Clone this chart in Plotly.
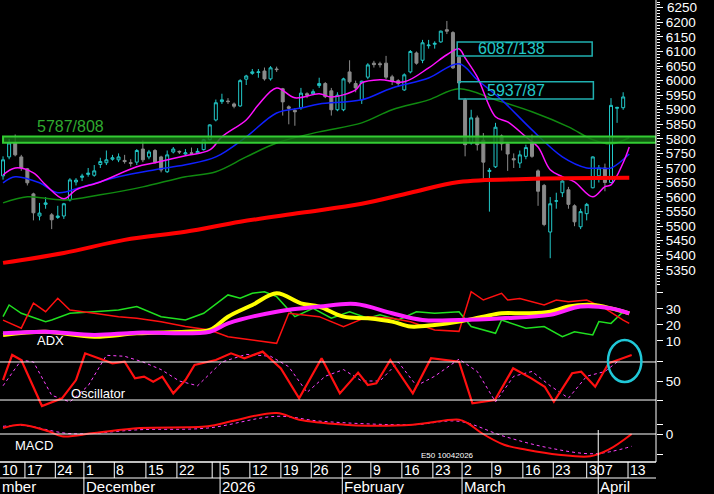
import plotly.graph_objects as go

# ---- price candles (open, high, low, close) ----
opens = [5673,5738,5786,5738,5697,5611,5535,5575,5539,5530,5535,5590,5652,5668,5678,5675,5712,5718,5730,5728,
         5726,5718,5720,5765,5738,5760,5738,5687,5755,5757,5748,5752,5752,5763,5797,5865,5928,5930,5920,5913,
         6005,6025,6028,6033,6006,6040,5972,5910,5898,5907,5955,5955,5983,5990,5965,5900,5900,6030,5990,5934,
         6012,6060,6058,6060,6013,6000,5968,6030,6095,6070,6120,6125,6133,6175,6165,6080,5934,5786,5872,5795,
         5688,5704,5810,5783,5732,5717,5740,5790,5690,5640,5480,5586,5615,5625,5570,5498,5543,5632,5673,5700,
         5650,5905,5907]
closes = [5728,5786,5745,5700,5649,5546,5545,5580,5522,5535,5577,5659,5658,5672,5682,5690,5722,5728,5735,5738,
          5722,5716,5760,5728,5755,5720,5693,5745,5765,5755,5752,5750,5757,5797,5848,5924,5934,5928,5912,6000,
          6016,6030,6030,6006,6044,6038,5927,5905,5893,5957,5950,5962,5990,5945,5900,5950,6006,5996,5975,5998,
          6054,6055,6055,6012,5997,5990,6020,6100,6060,6130,6122,6128,6170,6170,6044,5992,5780,5872,5780,5720,
          5692,5840,5783,5748,5728,5745,5770,5740,5620,5506,5577,5587,5655,5575,5515,5550,5575,5738,5700,5650,
          5915,5908,5944]
highs = [5740,5800,5815,5745,5700,5615,5580,5600,5545,5570,5580,5665,5665,5680,5700,5710,5735,5760,5745,5750,
         5745,5730,5765,5795,5762,5765,5742,5760,5772,5760,5765,5770,5768,5800,5850,5935,5955,5940,5925,6005,
         6020,6040,6040,6045,6050,6048,5975,5915,5905,5975,5960,5970,6010,5995,5975,5960,6010,6070,6000,6000,
         6060,6068,6065,6085,6020,6005,6025,6105,6100,6140,6140,6135,6172,6205,6170,6085,5940,5900,5880,5820,
         5700,5855,5815,5790,5750,5760,5780,5815,5695,5645,5600,5615,5665,5635,5575,5560,5580,5740,5710,5715,
         5940,5910,5960]
lows = [5660,5730,5740,5690,5640,5520,5520,5560,5490,5525,5525,5585,5640,5655,5670,5670,5700,5710,5725,5720,
        5715,5705,5710,5720,5730,5715,5685,5683,5750,5748,5745,5745,5750,5760,5795,5860,5920,5920,5905,5910,
        5985,6020,6010,6000,6000,6030,5880,5850,5845,5900,5940,5950,5975,5940,5880,5895,5895,5990,5960,5920,
        6005,6045,6045,6005,5985,5980,5965,6025,6055,6060,6110,6110,6130,6160,6040,5975,5740,5780,5760,5660,
        5550,5700,5760,5690,5700,5700,5730,5735,5570,5500,5390,5560,5600,5560,5500,5490,5520,5630,5650,5620,
        5650,5855,5900]
idx = list(range(len(opens)))

# ---- moving averages ----
ma10_x = [0,2,5,7,10,12,16,22,25,30,34,36,40,42,45,48,52,54,58,59,62,66,70,73,75,76,78,81,83,86,88,90,92,94,97,99,100,102,103]
ma10_y = [5676,5700,5683,5642,5594,5625,5652,5704,5718,5742,5762,5807,5865,5917,5975,5941,5955,5944,5968,5992,6003,5996,6044,6089,6109,6078,6013,5876,5858,5807,5772,5694,5670,5652,5601,5636,5642,5718,5772]
ma20_x = [0,2,6,9,13,19,25,30,35,40,45,49,52,59,64,70,75,78,82,87,92,96,98,100,103]
ma20_y = [5649,5670,5649,5615,5635,5670,5694,5711,5738,5807,5889,5906,5920,5934,5975,6009,6058,6003,5934,5831,5738,5700,5700,5700,5748]
ma50_x = [0,4,10,16,23,30,35,40,45,52,59,64,70,75,81,87,93,97,100,103]
ma50_y = [5580,5601,5590,5608,5635,5670,5687,5738,5786,5824,5855,5900,5934,5972,5934,5893,5841,5797,5783,5804]
ma200_x = [0,10,20,30,39,49,59,67,75,86,103]
ma200_y = [5374,5408,5453,5481,5515,5546,5577,5615,5652,5662,5666]

# ---- ADX panel ----
dim_x = [0,3,5,7,9,11,15,19,22,26,30,34,37,41,45,47,52,56,60,64,67,71,75,77,79,82,83,85,89,91,93,96,99,102,103]
dim_y = [23,18,33.6,28.3,36.7,29.4,27.3,25.2,24.2,22,19,16.9,12.7,10.6,8.5,27.3,25.2,19,25.2,24.2,22,16.9,16,40.8,35.6,39.8,35.6,36.5,32.5,35.6,34.6,35.6,30.4,23,21]
dip_x = [0,1,3,7,8,11,15,19,22,26,30,33,37,39,41,43,45,48,51,54,57,60,62,65,68,71,75,77,81,82,86,89,92,94,97,98,100,102,103]
dip_y = [25.2,32.5,27.3,22.1,23.1,27.3,28.3,29.4,31.5,25.2,23.1,27.3,38.8,36.7,39.8,40.8,37.7,25.2,30.4,24.2,28.3,24.2,26.3,23.1,28.3,27.3,28.3,19,14.8,23.1,17.9,19,12.7,15.8,13.8,22.1,21,28.3,28.3]
adx_x = [0,7,15,22,30,34,37,41,45,49,52,56,60,64,67,71,75,79,82,86,90,93,97,100,103]
adx_y = [13.75,15.8,12.7,14.8,15.8,16.9,25.2,32.5,39.8,33.5,31.5,25.2,24.2,22.1,19,20,22.1,25.2,27.3,27.3,28.3,31.5,32.5,30.4,27.3]
adxr_x = [0,7,15,22,34,37,45,52,58,64,69,75,82,90,95,100,103]
adxr_y = [14.8,15.8,13.75,15.2,15.8,21,28.3,31.5,33.1,27.3,23.1,23.1,24.2,26.3,31.5,30.4,27.3]

# ---- Oscillator ----
osc_x = [0,1.5,3,6.4,9.7,12,13.5,15,18,20,21.7,23.2,24.7,26.2,28,30,31.5,35,37.5,39.7,42.7,45.7,48.7,52.4,55.4,58.4,60,61.4,63.7,67.4,70.4,75,77.2,80.9,83.9,86.9,89.1,90.6,93.6,95.1,97.4,99.6,101.9,103.4]
osc_y = [51,77.4,72.1,23.7,31.8,51,79.1,75.6,68.6,70.3,52.8,54.6,49.3,54.6,37,51,66.8,72.1,79.1,73.9,80.9,63.3,31.8,73.9,37,58.8,45.8,47.5,72.1,37,73.9,70.3,26.5,30,63.3,52.8,44,28.2,58.1,59.8,44,68.6,73.9,77.4]
oscs_x = [0,3,5,8,11,14,17,20,23,26,29,32,36,40,44,47,50,53,56,59,62,65,68,71,75,78,81,84,87,90,93,96,99,102]
oscs_y = [45,72,70,35,28,45,77,76,70,62,50,45,70,78,76,65,38,55,62,50,50,70,45,55,73,60,28,55,60,45,32,55,60,75]
osc_levels = [70, 30]

# ---- MACD ----
macd_x = [0,3,7.5,9.7,15,22.5,33.7,37.5,45,48.7,56.2,60,67.4,75,76.4,78.7,82.4,86.1,91.4,96.6,99.6,103.4]
macd_y = [6,9.3,2.7,-2.3,1,6,7.7,12.7,21,14.3,9.3,8.3,9.3,14.3,11,1,-10.7,-15.7,-20.7,-22.3,-15.7,0]
sig_x = [0,3.7,11.2,22.5,33.7,45,52.4,67.4,75,82.4,89.9,97.4,103.4]
sig_y = [7.7,8.3,0.3,4.3,6,17.7,12.7,9.3,12.7,-2.3,-14,-19.7,-12.3]

# ---- date strip ----
week_pos = [-0.5,3.6,8.6,13.3,18.3,23.5,28.6,35.7,40.6,45.7,50.7,55.8,60.5,65.6,70.7,75.5,80.4,85.5,90.5,96,98.6,102.8]
week_lbl = ["10","17","24","1","8","15","22","5","12","19","26","2","9","16","23","2","9","16","23","30","7","13"]
sep_pos = [3.6,8.6,13.3,18.3,23.5,28.6,34.4,35.7,40.6,45.7,50.7,55.8,60.5,65.6,70.7,75.5,80.4,85.5,90.5,96,97.9,102.8]
month_pos = [-0.5,13.3,35.7,55.8,75.5,97.9]
month_lbl = ["mber","December","2026","February","March","April"]

price_ticks = list(range(5350, 6251, 50))

levels = [("5787/808", 5787, 5808, 0, 107.4, 5.3, 5841, "#2faa2f")]
boxes = [("6087/138", 6085, 6133, 74.7, 96.9, 77.8, 6109), ("5937/87", 5937, 5996, 75, 97.1, 79.3, 5966)]

H = 462.0
def fy(py):
    return (H - py) / H

CY = "#22c8c8"
FONT = "Liberation Sans"
fig = go.Figure()
fig.add_trace(go.Candlestick(x=idx, open=opens, high=highs, low=lows, close=closes,
    increasing=dict(line=dict(color=CY, width=1), fillcolor="black"),
    decreasing=dict(line=dict(color="#8a8a8a", width=1), fillcolor="#8a8a8a"),
    whiskerwidth=0, showlegend=False, hoverinfo="skip"))
fig.add_trace(go.Scatter(x=ma50_x, y=ma50_y, mode="lines", line=dict(color="#108a10", width=1.5, shape="spline")))
fig.add_trace(go.Scatter(x=ma20_x, y=ma20_y, mode="lines", line=dict(color="#1020ff", width=1.5, shape="spline")))
fig.add_trace(go.Scatter(x=ma10_x, y=ma10_y, mode="lines", line=dict(color="#ff10ff", width=1.5, shape="spline")))
fig.add_trace(go.Scatter(x=ma200_x, y=ma200_y, mode="lines", line=dict(color="#ff0000", width=4, shape="spline")))

fig.add_trace(go.Scatter(x=dip_x, y=dip_y, yaxis="y2", mode="lines", line=dict(color="#20e020", width=1.5)))
fig.add_trace(go.Scatter(x=dim_x, y=dim_y, yaxis="y2", mode="lines", line=dict(color="#ff1010", width=1.5)))
fig.add_trace(go.Scatter(x=adx_x, y=adx_y, yaxis="y2", mode="lines", line=dict(color="#ffff00", width=4, shape="spline")))
fig.add_trace(go.Scatter(x=adxr_x, y=adxr_y, yaxis="y2", mode="lines", line=dict(color="#ff20ff", width=4, shape="spline")))

fig.add_trace(go.Scatter(x=oscs_x, y=oscs_y, yaxis="y3", mode="lines", line=dict(color="#ff40ff", width=1, dash="dot")))
fig.add_trace(go.Scatter(x=osc_x, y=osc_y, yaxis="y3", mode="lines", line=dict(color="#ff1010", width=2.2)))

fig.add_trace(go.Scatter(x=sig_x, y=sig_y, yaxis="y4", mode="lines", line=dict(color="#ff40ff", width=1, dash="dot", shape="spline")))
fig.add_trace(go.Scatter(x=macd_x, y=macd_y, yaxis="y4", mode="lines", line=dict(color="#ff1010", width=2, shape="spline")))

shapes, ann = [], []
for name, lo, hi, x0, x1, tx, ty, col in levels:
    shapes.append(dict(type="rect", xref="x", yref="y", x0=x0, x1=x1, y0=lo, y1=hi,
                       line=dict(color="#33cc33", width=2), fillcolor="rgba(20,110,20,0.8)"))
    ann.append(dict(x=tx, y=ty, xref="x", yref="y", text=name, showarrow=False, xanchor="left", yanchor="middle",
                    font=dict(color=col, size=16, family=FONT)))
for name, lo, hi, x0, x1, tx, ty in boxes:
    shapes.append(dict(type="rect", xref="x", yref="y", x0=x0, x1=x1, y0=lo, y1=hi,
                       line=dict(color="#20b0b0", width=1.5)))
    ann.append(dict(x=tx, y=ty, xref="x", yref="y", text=name, showarrow=False, xanchor="left", yanchor="middle",
                    font=dict(color=CY, size=16, family=FONT)))
for lv in osc_levels:
    shapes.append(dict(type="line", xref="paper", yref="y3", x0=0, x1=1, y0=lv, y1=lv, line=dict(color="white", width=1)))
shapes.append(dict(type="line", xref="paper", yref="y4", x0=0, x1=1, y0=0, y1=0, line=dict(color="white", width=1)))
shapes.append(dict(type="line", xref="paper", yref="paper", x0=1, x1=1, y0=0, y1=1, line=dict(color="white", width=1)))
shapes.append(dict(type="line", xref="paper", yref="paper", x0=0, x1=1, y0=0, y1=0, line=dict(color="white", width=1.5)))
shapes.append(dict(type="line", xref="paper", yref="paper", x0=0, x1=1, y0=fy(478), y1=fy(478), line=dict(color="white", width=1)))
for p in sep_pos:
    shapes.append(dict(type="line", xref="x", yref="paper", x0=p, x1=p, y0=fy(462), y1=fy(478), line=dict(color="white", width=1)))
for p in month_pos[1:]:
    shapes.append(dict(type="line", xref="x", yref="paper", x0=p, x1=p, y0=fy(478), y1=fy(494), line=dict(color="white", width=1)))
shapes.append(dict(type="line", xref="x", yref="paper", x0=97.9, x1=97.9, y0=fy(430), y1=fy(462), line=dict(color="white", width=1)))
shapes.append(dict(type="circle", xref="x", yref="paper", x0=99.5, x1=105, y0=fy(382), y1=fy(340), line=dict(color="#20c8d8", width=2.5)))

for p, t in zip(week_pos, week_lbl):
    ann.append(dict(x=p, y=fy(470), xref="x", yref="paper", text=t, showarrow=False, xanchor="left", yanchor="middle",
                    font=dict(color="white", size=14, family=FONT)))
for p, t in zip(month_pos, month_lbl):
    ann.append(dict(x=p, y=fy(487), xref="x", yref="paper", text=t, showarrow=False, xanchor="left", yanchor="middle",
                    font=dict(color="white", size=15, family=FONT)))
for t, px, py in [("ADX", 35, 340), ("Oscillator", 69, 393), ("MACD", 13, 445)]:
    ann.append(dict(x=px / 656, y=fy(py), xref="paper", yref="paper", text=t, showarrow=False, xanchor="left", yanchor="middle",
                    font=dict(color="white", size=13, family=FONT)))
ann.append(dict(x=476 / 656, y=fy(455), xref="paper", yref="paper", text="E50 10042026", showarrow=False, yanchor="middle",
                font=dict(color="white", size=8, family=FONT)))
ann.append(dict(x=1, y=price_ticks[-1], xref="paper", yref="y", text=str(price_ticks[-1]), showarrow=False,
                xanchor="left", yanchor="middle", xshift=9, font=dict(color="white", size=13.5, family=FONT)))

ax = dict(side="right", showgrid=False, zeroline=False, ticks="outside", tickcolor="white", ticklen=6,
          tickfont=dict(color="white", size=13.5, family=FONT), showline=False, anchor="x")
fig.update_layout(
    width=714, height=494, paper_bgcolor="black", plot_bgcolor="black", showlegend=False,
    margin=dict(l=0, r=58, t=0, b=32),
    xaxis=dict(range=[-0.5, 107.4], showgrid=False, zeroline=False, showticklabels=False, ticks="",
               rangeslider=dict(visible=False)),
    yaxis=dict(ax, domain=[fy(285), 1], range=[5298, 6277], tickvals=price_ticks,
               ticktext=[str(v) for v in price_ticks[:-1]] + [""],
               minor=dict(ticks="outside", ticklen=3, tickcolor="white", dtick=10)),
    yaxis2=dict(ax, domain=[fy(348), fy(285)], range=[5.6, 45], tickvals=[10, 20, 30, 40], ticktext=["10", "20", "30", ""]),
    yaxis3=dict(ax, domain=[fy(410), fy(348)], range=[19.5, 84.7], tickvals=[30, 50, 70], ticktext=["", "50", ""]),
    yaxis4=dict(ax, domain=[0, fy(410)], range=[-28, 24], tickvals=[-20, 0, 10], ticktext=["", "0", ""]),
    shapes=shapes, annotations=ann,
)
fig.write_html("out.html", config={"displayModeBar": False},
               post_script="document.body.style.margin='0';document.body.style.background='black';")
